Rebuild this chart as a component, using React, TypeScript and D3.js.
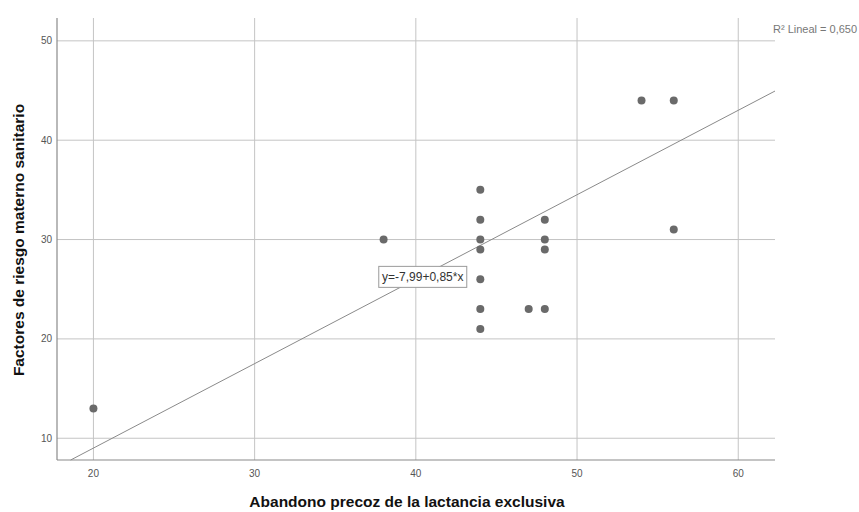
import React from "react";
import * as d3 from "d3";

const width = 859;
const height = 512;
const margin = { top: 18, right: 84, bottom: 52, left: 57 };

// data
const abandono = [20, 38, 44, 44, 44, 44, 44, 44, 44, 47, 48, 48, 48, 48, 54, 56, 56];
const factores = [13, 30, 35, 32, 30, 29, 26, 23, 21, 23, 32, 30, 29, 23, 44, 44, 31];
const xTicks = [20, 30, 40, 50, 60];
const yTicks = [10, 20, 30, 40, 50];
const intercept = -7.99;
const slope = 0.85;
const fitLabel = "y=-7,99+0,85*x";
const r2Label = "R² Lineal = 0,650";

const grid = "#c4c4c4";
const axisColor = "#8a8a8a";
const dot = "#6a6a6a";
const font = "'Liberation Sans', Arial, sans-serif";

export default function App() {
  const xScale = d3
    .scaleLinear()
    .domain([17.74, 62.28])
    .range([margin.left, width - margin.right]);
  const yScale = d3
    .scaleLinear()
    .domain([7.81, 52.3])
    .range([height - margin.bottom, margin.top]);

  const points = abandono.map((x, i) => ({ x, y: factores[i] }));

  // fit line clipped to the plot box
  const [x0, x1] = xScale.domain();
  const yMin = yScale.domain()[0];
  const xStart = Math.max(x0, (yMin - intercept) / slope);
  const fitLine = d3
    .line<number>()
    .x(d => xScale(d))
    .y(d => yScale(intercept + slope * d))([xStart, x1]);

  const left = margin.left;
  const right = width - margin.right;
  const top = margin.top;
  const bottom = height - margin.bottom;

  return (
    <svg width={width} height={height} style={{ display: "block", background: "#fff" }}>
      <style>{`body{margin:0}`}</style>
      {/* grid */}
      {xTicks.map(t => (
        <line key={"gx" + t} x1={xScale(t)} x2={xScale(t)} y1={top} y2={bottom} stroke={grid} strokeWidth={1} />
      ))}
      {yTicks.map(t => (
        <line key={"gy" + t} x1={left} x2={right} y1={yScale(t)} y2={yScale(t)} stroke={grid} strokeWidth={1} />
      ))}
      {/* axes */}
      <line x1={left} x2={left} y1={top} y2={bottom} stroke={axisColor} strokeWidth={1.2} />
      <line x1={left} x2={right} y1={bottom} y2={bottom} stroke={axisColor} strokeWidth={1.2} />
      {/* tick labels */}
      {xTicks.map(t => (
        <text key={"tx" + t} x={xScale(t)} y={bottom + 17} textAnchor="middle" fontSize={10} fill="#555" fontFamily={font}>
          {t}
        </text>
      ))}
      {yTicks.map(t => (
        <text key={"ty" + t} x={left - 5} y={yScale(t) + 3.5} textAnchor="end" fontSize={10} fill="#555" fontFamily={font}>
          {t}
        </text>
      ))}
      {/* fit line */}
      <path d={fitLine || ""} fill="none" stroke="#8a8a8a" strokeWidth={1} />
      {/* points */}
      {points.map((p, i) => (
        <circle key={i} cx={xScale(p.x)} cy={yScale(p.y)} r={4} fill={dot} />
      ))}
      {/* fit label */}
      <g transform={`translate(${xScale(37.7)},${yScale(27.3)})`}>
        <rect x={0} y={0} width={88} height={21} fill="#fff" stroke="#9a9a9a" strokeWidth={1} />
        <text x={44} y={15} textAnchor="middle" fontSize={12} fill="#333" fontFamily={font}>
          {fitLabel}
        </text>
      </g>
      <text x={right - 2} y={33} fontSize={11} fill="#777" fontFamily={font}>
        {r2Label}
      </text>
      {/* axis titles */}
      <text
        x={407}
        y={507}
        textAnchor="middle"
        fontSize={15.5}
        fontWeight="bold"
        fill="#111"
        fontFamily={font}
      >
        Abandono precoz de la lactancia exclusiva
      </text>
      <text
        transform={`translate(24,240) rotate(-90)`}
        textAnchor="middle"
        fontSize={15.5}
        fontWeight="bold"
        fill="#111"
        fontFamily={font}
      >
        Factores de riesgo materno sanitario
      </text>
    </svg>
  );
}
